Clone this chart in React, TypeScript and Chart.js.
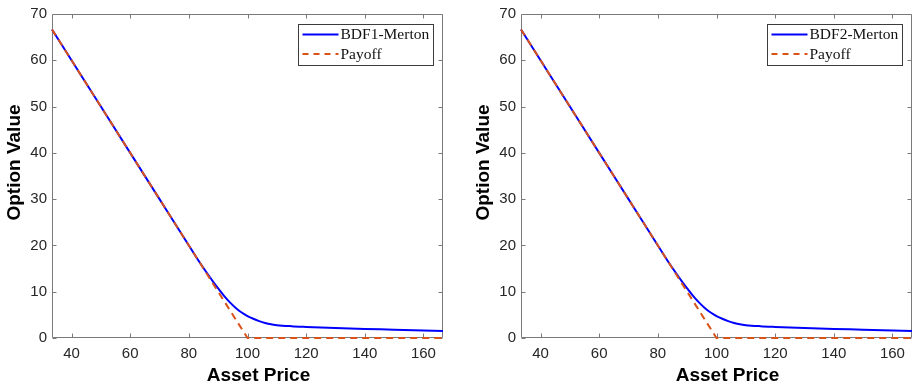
import React, { useEffect, useRef } from "react";
import { Chart, registerables } from "chart.js";

Chart.register(...registerables);

// ---- data ----
const assetPrices = [
  33.333, 40, 50, 60, 70, 75, 80, 82, 84, 86, 88, 90, 92, 94, 96, 98, 100, 102,
  104, 106, 108, 110, 115, 120, 130, 140, 150, 160, 166.667,
];
const bdf1Values = [
  66.667, 60, 50, 40, 30, 25, 20, 18.0, 16.05, 14.2, 12.4, 10.7, 9.1, 7.7, 6.5,
  5.5, 4.75, 4.15, 3.65, 3.25, 2.95, 2.78, 2.55, 2.4, 2.15, 1.95, 1.8, 1.62, 1.5,
];
const bdf2Values = [
  66.667, 60, 50, 40, 30, 25, 20, 18.0, 16.05, 14.2, 12.4, 10.7, 9.1, 7.7, 6.5,
  5.5, 4.75, 4.15, 3.65, 3.25, 2.95, 2.78, 2.55, 2.4, 2.15, 1.95, 1.8, 1.62, 1.5,
];
const payoffPrices = [33.333, 100, 166.667];
const payoffValues = [66.667, 0, 0];
const xTicks = [40, 60, 80, 100, 120, 140, 160];
const yTicks = [0, 10, 20, 30, 40, 50, 60, 70];
const xRange = [33.333, 166.667];
const yRange = [0, 70];
const leftLabels = ["BDF1-Merton", "Payoff"];
const rightLabels = ["BDF2-Merton", "Payoff"];
const xTitle = "Asset Price";
const yTitle = "Option Value";

const BLUE = "#0000ff";
const ORANGE = "#d95319";
const AXIS = "#7a7a7a";
const TEXT = "#262626";
const SANS = "'Liberation Sans', Arial, Helvetica, sans-serif";
const SERIF = "'Liberation Serif', 'Times New Roman', serif";

type PanelProps = {
  left: number;
  width: number;
  plotLeft: number;
  padRight: number;
  yTitleX: number;
  values: number[];
  labels: string[];
};

function makeAxesPlugin(labels: string[], yTitleX: number) {
  return {
    id: "matlabAxes",
    beforeDatasetsDraw(chart: any) {
      const { ctx, chartArea } = chart;
      const { left, right, top, bottom } = chartArea;
      const xs = chart.scales.x;
      const ys = chart.scales.y;
      ctx.save();
      ctx.strokeStyle = AXIS;
      ctx.lineWidth = 1;
      const L = Math.round(left) + 0.5;
      const R = Math.round(right) - 0.5;
      const T = Math.round(top) + 0.5;
      const B = Math.round(bottom) - 0.5;
      ctx.beginPath();
      ctx.rect(L, T, R - L, B - T);
      ctx.stroke();
      const tl = 4;
      ctx.beginPath();
      xTicks.forEach((v) => {
        const px = Math.round(xs.getPixelForValue(v)) + 0.5;
        ctx.moveTo(px, B);
        ctx.lineTo(px, B - tl);
        ctx.moveTo(px, T);
        ctx.lineTo(px, T + tl);
      });
      yTicks.forEach((v) => {
        const py = Math.round(ys.getPixelForValue(v)) + 0.5;
        ctx.moveTo(L, py);
        ctx.lineTo(L + tl, py);
        ctx.moveTo(R, py);
        ctx.lineTo(R - tl, py);
      });
      ctx.stroke();
      ctx.restore();
    },
    afterDraw(chart: any) {
      const { ctx, chartArea } = chart;
      const { left, right, top, bottom } = chartArea;
      ctx.save();
      // legend
      const bw = 135;
      const bh = 41;
      const bx = Math.round(right - 9.7 - bw) + 0.5;
      const by = Math.round(top + 10) + 0.5;
      ctx.fillStyle = "#ffffff";
      ctx.fillRect(bx, by, bw, bh);
      ctx.lineWidth = 1;
      ctx.strokeStyle = "#3c3c3c";
      ctx.strokeRect(bx, by, bw, bh);
      const rows = [by + 10, by + 29.5];
      ctx.lineWidth = 2;
      ctx.strokeStyle = BLUE;
      ctx.setLineDash([]);
      ctx.beginPath();
      ctx.moveTo(bx + 4, rows[0]);
      ctx.lineTo(bx + 40, rows[0]);
      ctx.stroke();
      ctx.strokeStyle = ORANGE;
      ctx.setLineDash([6, 5]);
      ctx.beginPath();
      ctx.moveTo(bx + 4, rows[1]);
      ctx.lineTo(bx + 40, rows[1]);
      ctx.stroke();
      ctx.setLineDash([]);
      ctx.fillStyle = "#111111";
      ctx.font = `15.5px ${SERIF}`;
      ctx.textBaseline = "middle";
      ctx.textAlign = "left";
      ctx.fillText(labels[0], bx + 42, rows[0] + 0.5);
      ctx.fillText(labels[1], bx + 42, rows[1] + 0.5);

      // axis titles
      ctx.fillStyle = "#000000";
      ctx.font = `bold 19px ${SANS}`;
      ctx.textAlign = "center";
      ctx.textBaseline = "middle";
      ctx.fillText(xTitle, (left + right) / 2 + 11, 376);
      ctx.translate(yTitleX, (top + bottom) / 2 - 13.5);
      ctx.rotate(-Math.PI / 2);
      ctx.fillText(yTitle, 0, 0);
      ctx.restore();
    },
  };
}

function Panel({ left, width, plotLeft, padRight, yTitleX, values, labels }: PanelProps) {
  const ref = useRef<HTMLCanvasElement | null>(null);
  useEffect(() => {
    if (!ref.current) return;
    const chart = new Chart(ref.current, {
      type: "line",
      data: {
        datasets: [
          {
            label: labels[0],
            data: assetPrices.map((x, i) => ({ x, y: values[i] })),
            borderColor: BLUE,
            borderWidth: 2,
            pointRadius: 0,
            cubicInterpolationMode: "monotone",
            fill: false,
            clip: 3,
            order: 1,
          },
          {
            label: labels[1],
            data: payoffPrices.map((x, i) => ({ x, y: payoffValues[i] })),
            borderColor: ORANGE,
            borderWidth: 2,
            borderDash: [7, 5],
            pointRadius: 0,
            tension: 0,
            fill: false,
            clip: 3,
            order: 0,
          },
        ],
      },
      options: {
        animation: false,
        responsive: false,
        maintainAspectRatio: false,
        devicePixelRatio: 1,
        layout: { padding: { left: 0, top: 14, right: padRight, bottom: 0 } },
        plugins: { legend: { display: false }, tooltip: { enabled: false } },
        scales: {
          x: {
            type: "linear",
            min: xRange[0],
            max: xRange[1],
            grid: { display: false, drawTicks: false },
            border: { display: false },
            afterBuildTicks: (axis: any) => {
              axis.ticks = xTicks.map((v) => ({ value: v }));
            },
            afterFit: (axis: any) => {
              axis.height = 50;
            },
            ticks: {
              color: TEXT,
              font: { family: SANS, size: 15 },
              padding: 7,
              maxRotation: 0,
              autoSkip: false,
            },
          },
          y: {
            type: "linear",
            min: yRange[0],
            max: yRange[1],
            grid: { display: false, drawTicks: false },
            border: { display: false },
            afterBuildTicks: (axis: any) => {
              axis.ticks = yTicks.map((v) => ({ value: v }));
            },
            afterFit: (axis: any) => {
              axis.width = plotLeft;
            },
            ticks: {
              color: TEXT,
              font: { family: SANS, size: 15 },
              padding: 5,
              autoSkip: false,
            },
          },
        },
      },
      plugins: [makeAxesPlugin(labels, yTitleX)],
    } as any);
    return () => chart.destroy();
  }, []);
  return (
    <canvas
      ref={ref}
      width={width}
      height={388}
      style={{ position: "absolute", left, top: 0, width, height: 388 }}
    />
  );
}

export default function App() {
  return (
    <div
      style={{
        position: "absolute",
        left: 0,
        top: 0,
        width: 913,
        height: 388,
        background: "#ffffff",
        overflow: "hidden",
      }}
    >
      <Panel left={0} width={455} plotLeft={52} padRight={12} yTitleX={15} values={bdf1Values} labels={leftLabels} />
      <Panel left={455} width={458} plotLeft={66} padRight={1} yTitleX={29.2} values={bdf2Values} labels={rightLabels} />
    </div>
  );
}
